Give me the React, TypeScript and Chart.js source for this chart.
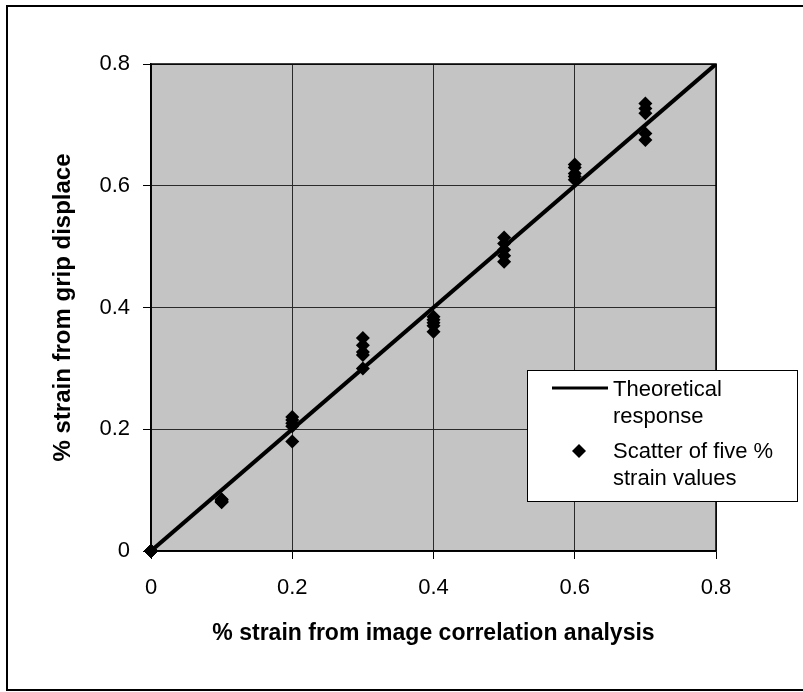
import React, { useEffect, useRef } from "react";
import { Chart, registerables } from "chart.js";

Chart.register(...registerables);

// x positions (% strain from image correlation analysis)
const strainImage = [0, 0.1, 0.2, 0.3, 0.4, 0.5, 0.6, 0.7];
// five % strain values from grip displacement at each x
const run1 = [0, 0.080, 0.220, 0.350, 0.385, 0.515, 0.635, 0.735];
const run2 = [0, 0.082, 0.215, 0.338, 0.380, 0.505, 0.630, 0.727];
const run3 = [0, 0.084, 0.210, 0.327, 0.375, 0.495, 0.620, 0.719];
const run4 = [0, 0.085, 0.205, 0.322, 0.370, 0.485, 0.615, 0.686];
const run5 = [0, 0.081, 0.180, 0.300, 0.360, 0.475, 0.610, 0.675];
// theoretical response line
const theoryX = [0, 0.8];
const theoryY = [0, 0.8];
// axis ticks
const tickValues = [0, 0.2, 0.4, 0.6, 0.8];

const legendLabels = [
  ["Theoretical", "response"],
  ["Scatter of five %", "strain values"],
];

const FONT = "'Liberation Sans', Arial, sans-serif";

export default function App() {
  const ref = useRef<HTMLCanvasElement | null>(null);

  useEffect(() => {
    document.body.style.margin = "0";
    const canvas = ref.current;
    if (!canvas) return;

    const scatterPts: { x: number; y: number }[] = [];
    [run1, run2, run3, run4, run5].forEach((run) => {
      run.forEach((v, i) => scatterPts.push({ x: strainImage[i], y: v }));
    });
    const linePts = theoryX.map((x, i) => ({ x, y: theoryY[i] }));

    const bgPlugin = {
      id: "bgPlugin",
      beforeDraw(chart: any) {
        const { ctx, chartArea: a } = chart;
        ctx.save();
        ctx.fillStyle = "#ffffff";
        ctx.fillRect(0, 0, chart.width, chart.height);
        // outer frame
        ctx.strokeStyle = "#000";
        ctx.lineWidth = 2;
        ctx.strokeRect(7, 6, 810, 684);
        // plot background
        ctx.fillStyle = "#c4c4c4";
        ctx.fillRect(a.left, a.top, a.right - a.left, a.bottom - a.top);
        ctx.restore();
      },
      beforeDatasetsDraw(chart: any) {
        const { ctx, chartArea: a } = chart;
        ctx.save();
        ctx.strokeStyle = "#000";
        ctx.lineWidth = 1.5;
        ctx.strokeRect(a.left, a.top, a.right - a.left, a.bottom - a.top);
        ctx.restore();
      },
      afterDraw(chart: any) {
        const { ctx } = chart;
        ctx.save();
        // legend box
        const bx = 527, by = 370, bw = 270, bh = 131;
        ctx.fillStyle = "#fff";
        ctx.fillRect(bx, by, bw, bh);
        ctx.strokeStyle = "#000";
        ctx.lineWidth = 1;
        ctx.strokeRect(bx + 0.5, by + 0.5, bw, bh);
        // line sample
        ctx.strokeStyle = "#000";
        ctx.lineWidth = 3;
        ctx.beginPath();
        ctx.moveTo(552, 388);
        ctx.lineTo(608, 388);
        ctx.stroke();
        // diamond sample
        ctx.fillStyle = "#000";
        ctx.beginPath();
        const dx = 579, dy = 451, r = 7;
        ctx.moveTo(dx - r, dy);
        ctx.lineTo(dx, dy - r);
        ctx.lineTo(dx + r, dy);
        ctx.lineTo(dx, dy + r);
        ctx.closePath();
        ctx.fill();
        // text
        ctx.font = `22px ${FONT}`;
        ctx.textAlign = "left";
        ctx.textBaseline = "alphabetic";
        ctx.fillText(legendLabels[0][0], 613, 396);
        ctx.fillText(legendLabels[0][1], 613, 423);
        ctx.fillText(legendLabels[1][0], 613, 458);
        ctx.fillText(legendLabels[1][1], 613, 485);
        ctx.restore();
      },
    };

    const chart = new Chart(canvas, {
      type: "scatter",
      data: {
        datasets: [
          {
            label: "Scatter of five % strain values",
            data: scatterPts,
            pointStyle: "rectRot",
            pointRadius: 7,
            pointBackgroundColor: "#000",
            pointBorderColor: "#000",
            pointBorderWidth: 0,
            showLine: false,
            clip: false,
            order: 0,
          },
          {
            label: "Theoretical response",
            data: linePts,
            showLine: true,
            borderColor: "#000",
            borderWidth: 4,
            pointRadius: 0,
            order: 1,
          },
        ],
      },
      plugins: [bgPlugin],
      options: {
        responsive: false,
        animation: false,
        devicePixelRatio: 1,
        layout: { padding: { top: 64, right: 87, left: 0, bottom: 0 } },
        plugins: {
          legend: { display: false },
          tooltip: { enabled: false },
          title: { display: false },
        },
        scales: {
          x: {
            type: "linear",
            min: 0,
            max: 0.8,
            afterFit: (s: any) => {
              s.height = 141;
            },
            afterBuildTicks: (s: any) => {
              s.ticks = tickValues.map((v) => ({ value: v }));
            },
            ticks: {
              color: "#000",
              font: { family: FONT, size: 22 },
              padding: 16,
              maxRotation: 0,
              callback: (v: any) => (v === 0 ? "0" : Number(v).toFixed(1)),
            },
            grid: {
              color: "#2a2a2a",
              lineWidth: 1,
              drawTicks: true,
              tickLength: 8,
              tickColor: "#000",
            },
            border: { color: "#000", width: 1.5 },
            title: {
              display: true,
              text: "% strain from image correlation analysis",
              color: "#000",
              font: { family: FONT, size: 23, weight: "bold" },
              padding: { top: 0, bottom: 45 },
            },
          },
          y: {
            type: "linear",
            min: 0,
            max: 0.8,
            afterFit: (s: any) => {
              s.width = 151;
            },
            afterBuildTicks: (s: any) => {
              s.ticks = tickValues.map((v) => ({ value: v }));
            },
            ticks: {
              color: "#000",
              font: { family: FONT, size: 22 },
              padding: 13,
              callback: (v: any) => (v === 0 ? "0" : Number(v).toFixed(1)),
            },
            grid: {
              color: "#2a2a2a",
              lineWidth: 1,
              drawTicks: true,
              tickLength: 8,
              tickColor: "#000",
            },
            border: { color: "#000", width: 1.5 },
            title: {
              display: true,
              text: "% strain from grip displace",
              color: "#000",
              font: { family: FONT, size: 24, weight: "bold" },
              padding: { top: 49, bottom: 0 },
            },
          },
        },
      },
    } as any);

    return () => chart.destroy();
  }, []);

  return (
    <div style={{ width: 803, height: 692 }}>
      <canvas ref={ref} width={803} height={692} style={{ display: "block" }} />
    </div>
  );
}
